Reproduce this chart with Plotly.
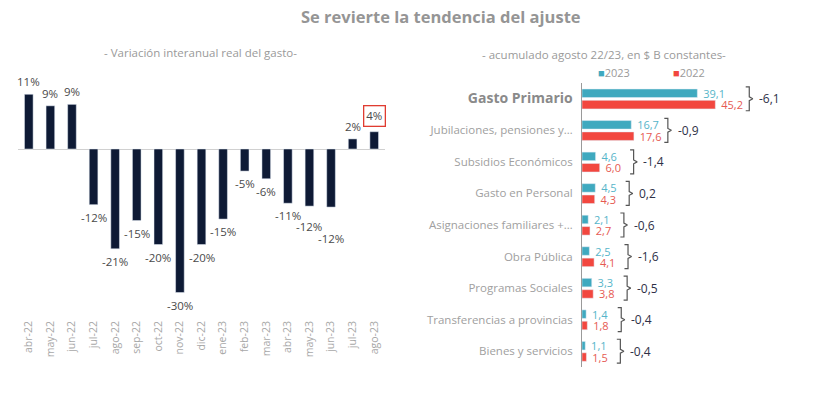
import plotly.graph_objects as go

# ---------------- data ----------------
months = ["abr-22", "may-22", "jun-22", "jul-22", "ago-22", "sep-22", "oct-22", "nov-22",
          "dic-22", "ene-23", "feb-23", "mar-23", "abr-23", "may-23", "jun-23", "jul-23", "ago-23"]
var_real = [11.4, 9.0, 9.3, -11.6, -20.8, -14.9, -19.9, -29.9, -19.9, -14.6, -4.6, -6.2,
            -11.3, -11.9, -12.1, 2.1, 3.6]

categories = ["Gasto Primario", "Jubilaciones, pensiones y…", "Subsidios Económicos",
              "Gasto en Personal", "Asignaciones familiares +…", "Obra Pública",
              "Programas Sociales", "Transferencias a provincias", "Bienes y servicios"]
v2023 = [39.1, 16.7, 4.6, 4.5, 2.1, 2.5, 3.3, 1.4, 1.1]
v2022 = [45.2, 17.6, 6.0, 4.3, 2.7, 4.1, 3.8, 1.8, 1.5]
series_names = ["2023", "2022"]

# ---------------- styles ----------------
W, H = 822, 399
FONT = "Open Sans"
NAVY = "#0E1A35"
TEAL = "#3FA9BF"
RED = "#F2473F"
TEAL_T = "#56B5C9"
RED_T = "#E65A52"
GRAY = "#9A9A9A"
LABEL_NUDGE = {"may-23": -8, "jun-23": -19}   # extra downward offset to avoid overlaps


def px_x(p):
    return p / W


def px_y(p):
    return 1 - p / H


fig = go.Figure()
annotations = []

# left chart
fig.add_trace(go.Bar(
    x=months, y=var_real, marker_color=NAVY, width=0.4,
    showlegend=False, xaxis="x", yaxis="y", hoverinfo="skip"))

for m, v in zip(months, var_real):
    is_last = m == months[-1]
    pos = v >= 0
    annotations.append(dict(
        x=m, y=v, xref="x", yref="y", showarrow=False,
        yanchor="bottom" if pos else "top",
        yshift=(5 if pos else -5) + LABEL_NUDGE.get(m, 0),
        text=f"{round(v)}%",
        font=dict(family=FONT, size=11.5, color="#4A4A4A"),
        bordercolor="#E03C31" if is_last else "rgba(0,0,0,0)",
        borderwidth=1.3 if is_last else 0, borderpad=2 if is_last else 0))

# right chart
idx = list(range(len(categories)))
for vals, name, col, tcol, off in [(v2023, series_names[0], TEAL, TEAL_T, -0.31),
                                   (v2022, series_names[1], RED, RED_T, 0.05)]:
    fig.add_trace(go.Bar(
        y=idx, x=vals, orientation="h", name=name, marker_color=col,
        width=0.27, offset=off, texttemplate=" %{x:.1f}", textposition="outside",
        constraintext="none", cliponaxis=False,
        textfont=dict(family=FONT, size=11, color=tcol),
        showlegend=False, xaxis="x2", yaxis="y2", hoverinfo="skip"))

# brackets + difference labels
bx, by = [], []
for i, (a, b) in enumerate(zip(v2023, v2022)):
    xb = max(a, b) + 11.5
    top, bot = i - 0.38, i + 0.38
    bx += [xb - 1.2, xb, xb, xb + 1.2, xb, xb, xb - 1.2, None]
    by += [top, top, i - 0.06, i, i + 0.06, bot, bot, None]
    d = a - b
    annotations.append(dict(
        x=xb + 2.6, y=i, xref="x2", yref="y2", xanchor="left", yanchor="middle",
        text=f"{d:.1f}".replace(".", ","), showarrow=False,
        font=dict(family=FONT, size=12, color="#2E3047")))
fig.add_trace(go.Scatter(
    x=bx, y=by, mode="lines", line=dict(color="#555555", width=1.2),
    showlegend=False, xaxis="x2", yaxis="y2", hoverinfo="skip", cliponaxis=False))

# custom legend
for name, col, xp in [(series_names[0], TEAL, 596), (series_names[1], RED, 671)]:
    annotations.append(dict(
        x=px_x(xp), y=px_y(73), xref="paper", yref="paper", xanchor="left",
        yanchor="middle", showarrow=False,
        text=f"<span style='color:{col};font-size:11px'>■</span>{name}",
        font=dict(family=FONT, size=11, color=GRAY)))

# titles
annotations += [
    dict(x=px_x(441), y=px_y(16), xref="paper", yref="paper", showarrow=False,
         xanchor="center", yanchor="middle",
         text="<b>Se revierte la tendencia del ajuste</b>",
         font=dict(family=FONT, size=16.5, color="#959595")),
    dict(x=px_x(200), y=px_y(53), xref="paper", yref="paper", showarrow=False,
         xanchor="center", yanchor="middle",
         text="- Variación interanual real del gasto-",
         font=dict(family=FONT, size=11.5, color=GRAY)),
    dict(x=px_x(604), y=px_y(54), xref="paper", yref="paper", showarrow=False,
         xanchor="center", yanchor="middle",
         text="- acumulado agosto 22/23, en $ B constantes-",
         font=dict(family=FONT, size=11.5, color=GRAY)),
]

ticktext = [f"<b><span style='font-size:14px;color:#8a8a8a'>{c}</span></b>" if i == 0 else c
            for i, c in enumerate(categories)]

zero_px, top_px, bot_px, scale = 149, 70, 318, 4.8

fig.update_layout(
    width=W, height=H, margin=dict(l=0, r=0, t=0, b=0),
    paper_bgcolor="white", plot_bgcolor="white",
    separators=",.", barmode="group",
    font=dict(family=FONT, color=GRAY),
    xaxis=dict(domain=[px_x(18), px_x(385)], range=[-0.5, 16.5], tickangle=-90,
               showgrid=False, showline=False, ticks="", anchor="y",
               tickfont=dict(family=FONT, size=10.5, color="#A8A8A8")),
    yaxis=dict(domain=[px_y(bot_px), px_y(top_px)],
               range=[-(bot_px - zero_px) / scale, (zero_px - top_px) / scale],
               showticklabels=False, showgrid=False, zeroline=True,
               zerolinecolor="#D0D0D0", zerolinewidth=1, anchor="x"),
    xaxis2=dict(domain=[px_x(582), 1], range=[0, 240 / 2.95], visible=False, anchor="y2"),
    yaxis2=dict(domain=[px_y(367), px_y(83)], range=[8.5, -0.5], tickvals=idx,
                ticktext=ticktext, showgrid=False, zeroline=False, showline=True,
                linecolor="#9A9A9A", linewidth=1, ticks="", ticklabelstandoff=6,
                anchor="x2", tickfont=dict(family=FONT, size=11.5, color="#A0A0A0")),
    showlegend=False,
    annotations=annotations,
)

fig.write_html("out.html", config={"displayModeBar": False},
               post_script="document.body.style.margin='0';")
